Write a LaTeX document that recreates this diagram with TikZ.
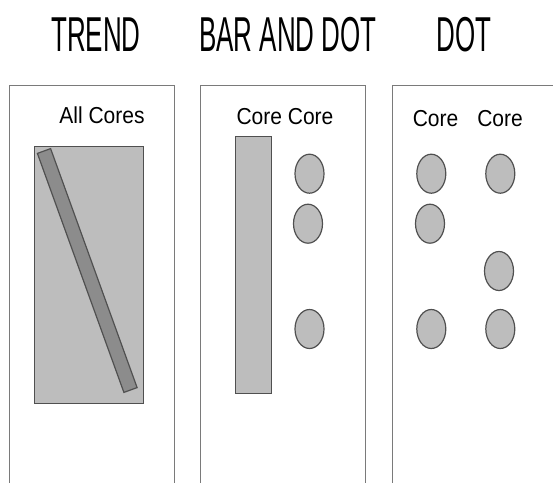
\documentclass[tikz,border=0pt]{standalone}
\usepackage{fontspec}
\setmainfont{Liberation Sans}
\usetikzlibrary{shapes.geometric}
\definecolor{lightfill}{HTML}{BDBDBD}
\definecolor{darkfill}{HTML}{8C8C8C}
\definecolor{edge}{HTML}{505050}
\definecolor{panelline}{HTML}{7A7A7A}
\begin{document}
\begin{tikzpicture}[x=1pt,y=-1pt,
  title/.style={anchor=base,inner sep=0pt,font=\fontsize{49}{49}\selectfont,xscale=0.53},
  lbl/.style={anchor=base,inner sep=0pt,font=\fontsize{21}{21}\selectfont,yscale=1.1},
  panel/.style={draw=panelline,line width=1.8pt},
  block/.style={draw=edge,fill=lightfill,line width=1.2pt,inner sep=0pt,anchor=north west},
  dotshape/.style={ellipse,draw=edge,fill=lightfill,line width=1.2pt,inner sep=0pt,minimum width=29pt,minimum height=39pt}]
\useasboundingbox (0,0) rectangle (553,482);
% titles
\node[title] (t1) at (96,51) {TREND};
\node[title] (t2) at (288,51) {BAR AND DOT};
\node[title] (t3) at (464,51) {DOT};
% panels
\draw[panel] (9.5,486) -- (9.5,85.5) -- (174.5,85.5) -- (174.5,486);
\draw[panel] (200.5,486) -- (200.5,85.5) -- (365.5,85.5) -- (365.5,486);
\draw[panel] (392.5,486) -- (392.5,85.5) -- (560,85.5);
% panel 1
\node[lbl] (l1) at (102,123) {All Cores};
\node[block,minimum width=109pt,minimum height=257pt] (r1) at (34,146) {};
\draw[draw=edge,fill=darkfill,line width=1.2pt] (50.6,148.6) -- (37.4,153.4) -- (123.9,392.4) -- (137.1,387.6) -- cycle;
% panel 2
\node[lbl] (l2) at (285,124) {Core Core};
\node[block,minimum width=36pt,minimum height=257pt] (r2) at (235,136) {};
\node[dotshape] (a1) at (309.5,173.7) {};
\node[dotshape] (a2) at (308,223.7) {};
\node[dotshape] (a3) at (309.5,329) {};
% panel 3
\node[lbl] (l3) at (435.5,126) {Core};
\node[lbl] (l4) at (500,126) {Core};
\node[dotshape] (b1) at (431.3,173.7) {};
\node[dotshape] (b2) at (430,223.7) {};
\node[dotshape] (b3) at (431.3,329) {};
\node[dotshape] (c1) at (500.3,173.7) {};
\node[dotshape] (c2) at (499,271) {};
\node[dotshape] (c3) at (500.3,329) {};
\end{tikzpicture}
\end{document}
